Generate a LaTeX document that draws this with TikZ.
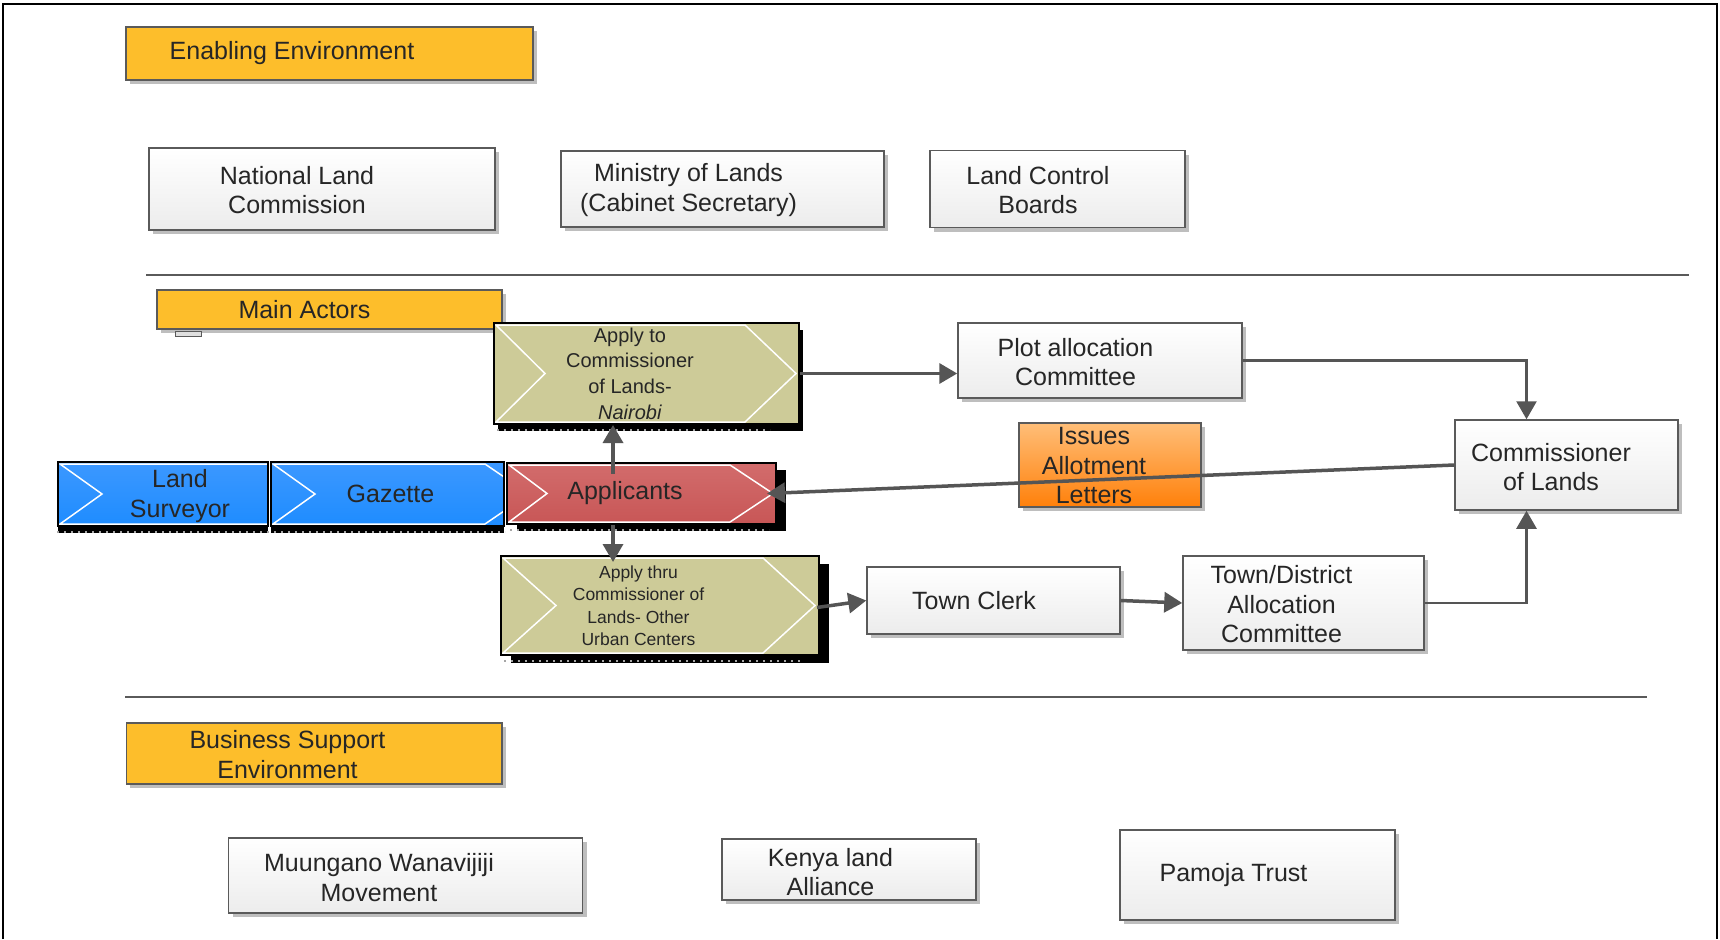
\documentclass[tikz,border=0pt]{standalone}
\usepackage{fontspec}
\setmainfont{Liberation Sans}
\usetikzlibrary{arrows.meta, shadows, positioning}

\definecolor{hdrorange}{RGB}{253,190,43}
\definecolor{boxgray}{RGB}{90,90,90}
\definecolor{boxfill}{RGB}{236,236,236}
\definecolor{shadowgray}{RGB}{190,190,190}
\definecolor{arrowgray}{RGB}{85,85,85}
\definecolor{khaki}{RGB}{205,203,152}
\definecolor{bluetop}{RGB}{60,152,255}
\definecolor{bluemid}{RGB}{92,172,255}
\definecolor{bluebot}{RGB}{30,140,255}
\definecolor{redtop}{RGB}{210,108,108}
\definecolor{redmid}{RGB}{222,138,138}
\definecolor{redbot}{RGB}{200,86,86}
\definecolor{issuetop}{RGB}{255,190,120}
\definecolor{issuebot}{RGB}{255,128,10}

\tikzstyle{box} = [rectangle, draw=boxgray, line width=1.5pt, top color=white, bottom color=boxfill, inner sep=0pt,
  drop shadow={shadow xshift=4pt, shadow yshift=-4pt, fill=shadowgray, opacity=1}]
\tikzstyle{header} = [rectangle, draw=boxgray, line width=1.5pt, fill=hdrorange, inner sep=0pt,
  drop shadow={shadow xshift=4pt, shadow yshift=-4pt, fill=shadowgray, opacity=1}]
\tikzstyle{issue} = [box, top color=issuetop, bottom color=issuebot]
\tikzstyle{txt} = [font=\fontsize{25}{29.5}\selectfont, align=center, text=black!85]
\tikzstyle{arrow} = [draw, arrowgray, line width=3.5pt, -{Triangle[length=18pt, width=20pt]}]
\tikzstyle{line} = [draw, boxgray, line width=1.5pt]
\tikzstyle{dotrow} = [draw, gray!70, line width=2pt, dash pattern=on 2pt off 5pt]
\tikzstyle{blueband} = [rectangle, draw=black, line width=2pt, inner sep=0pt,
  top color=bluetop, middle color=bluemid, bottom color=bluebot]
\tikzstyle{redband} = [blueband, top color=redtop, middle color=redmid, bottom color=redbot]
\tikzstyle{khakiband} = [rectangle, draw=black, line width=2pt, inner sep=0pt, fill=khaki]

% white arrow outline inside the coloured bands: notch, end of top edge, tip
\tikzset{chevron/.style n args={3}{path picture={
  \draw[white, line width=1.5pt]
    ([shift={(2,2)}]path picture bounding box.north west)
    -- ([shift={(-#2,2)}]path picture bounding box.north east)
    -- ([shift={(-#3,0)}]path picture bounding box.east)
    -- ([shift={(-#2,-2)}]path picture bounding box.south east)
    -- ([shift={(2,-2)}]path picture bounding box.south west)
    -- ([shift={(#1,0)}]path picture bounding box.west) -- cycle;}}}

\begin{document}
\begin{tikzpicture}[x=1pt, y=-1pt, node distance=100pt]
    \fill[white] (0,0) rectangle (1720,939);
    \useasboundingbox (0,0) rectangle (1720,939);
    \draw[line width=2pt] (3,939) -- (3,4) -- (1716.5,4) -- (1716.5,939);

    % enabling environment
    \node[header, minimum width=407pt, minimum height=53pt,
      label={[txt, xshift=-37.5pt]center:Enabling Environment}] (enabling) at (329.5,53.5) {};
    \node[box, below of=enabling, node distance=135.5pt, xshift=-7.5pt, minimum width=346pt, minimum height=82pt,
      label={[txt, xshift=-25pt, yshift=-1pt]center:{National Land\\Commission}}] (nlc) {};
    \node[box, right of=nlc, node distance=400.5pt, minimum width=323pt, minimum height=76pt,
      label={[txt, xshift=-34pt, yshift=-1pt]center:{Ministry of Lands\\(Cabinet Secretary)}}] (ministry) {};
    \node[box, right of=ministry, node distance=335pt, minimum width=255pt, minimum height=77pt,
      label={[txt, xshift=-19.5pt, yshift=-1pt]center:{Land Control\\Boards}}] (boards) {};

    \path[line] (146,275) -- (1689,275);

    % main actors
    \node[header, below of=enabling, node distance=256pt, minimum width=345pt, minimum height=39pt,
      label={[txt, xshift=-25pt]center:Main Actors}] (actors) {};
    \draw[boxgray, fill=gray!25, line width=1pt] (175,331) rectangle (201,336);

    \node[blueband, chevron={44}{-6}{-50}, general shadow={fill=black, shadow yshift=-7pt},
      minimum width=210pt, minimum height=64pt,
      label={[txt, xshift=17pt, yshift=-2pt]center:{Land\\Surveyor}}] (surveyor) at (163,494) {};
    \node[blueband, chevron={44}{19}{-25}, general shadow={fill=black, shadow yshift=-7pt},
      right of=surveyor, node distance=224.5pt, minimum width=233pt, minimum height=64pt,
      label={[txt, xshift=3pt]center:Gazette}] (gazette) {};
    \draw[dotrow] ([yshift=-4.5pt]surveyor.south west) -- ([yshift=-4.5pt]gazette.south east);
    \node[redband, chevron={40}{46}{3}, general shadow={fill=black, shadow xshift=10pt, shadow yshift=-7pt},
      right of=gazette, node distance=254pt, yshift=0.5pt, minimum width=269pt, minimum height=61pt,
      label={[txt, xshift=-16.5pt]center:Applicants}] (appl) {};
    \draw[dotrow] ([xshift=4pt, yshift=-4.5pt]appl.south west) -- ([xshift=-8pt, yshift=-4.5pt]appl.south east);

    \node[khakiband, chevron={51}{54}{3}, general shadow={fill=black, shadow xshift=4pt, shadow yshift=-7pt},
      minimum width=305pt, minimum height=101pt,
      label={[txt, font=\fontsize{20}{25.7}\selectfont, xshift=-16.5pt]center:{Apply to\\Commissioner\\of Lands-\\\textit{Nairobi}}}] (applyto) at (646.5,373.5) {};
    \draw[dotrow] ([xshift=4pt, yshift=-4.5pt]applyto.south west) -- ([xshift=-30pt, yshift=-4.5pt]applyto.south east);
    \node[khakiband, chevron={55}{56}{4}, general shadow={fill=black, shadow xshift=10pt, shadow yshift=-8pt},
      minimum width=318pt, minimum height=99pt,
      label={[txt, font=\fontsize{17.5}{22.5}\selectfont, xshift=-21.5pt]center:{Apply thru\\Commissioner of\\Lands- Other\\Urban Centers}}] (thru) at (660,605.5) {};
    \draw[dotrow] ([xshift=4pt, yshift=-5pt]thru.south west) -- ([xshift=-20pt, yshift=-5pt]thru.south east);

    \node[box, minimum width=284pt, minimum height=75pt,
      label={[txt, xshift=-24.5pt, yshift=-1.5pt]center:{Plot allocation\\Committee}}] (plot) at (1100,360.5) {};
    \node[box, minimum width=223pt, minimum height=90pt,
      label={[txt, xshift=-15.5pt, yshift=-2pt]center:{Commissioner\\of Lands}}] (comm) at (1566.5,465) {};
    \node[issue, minimum width=182pt, minimum height=84pt,
      label={[txt, xshift=-16pt, yshift=-1pt]center:{Issues\\Allotment\\Letters}}] (issues) at (1110,465) {};
    \node[box, minimum width=253pt, minimum height=67pt,
      label={[txt, xshift=-19.5pt]center:Town Clerk}] (clerk) at (993.5,600.5) {};
    \node[box, minimum width=241pt, minimum height=94pt,
      label={[txt, xshift=-22pt, yshift=-1.5pt]center:{Town/District\\Allocation\\Committee}}] (tdist) at (1303.5,603) {};

    % lines
    \draw[arrow] (applyto.east) -- (applyto.east -| plot.west);
    \draw[arrow, line width=2.5pt] (plot.east) -| ([xshift=-40pt]comm.north);
    \draw[arrow] (comm.west) -- ([xshift=-10pt]appl.east);
    \draw[arrow] ([xshift=-28.5pt, yshift=-12pt]appl.north) -- ([xshift=-28.5pt]appl.north |- applyto.south);
    \draw[arrow] ([xshift=-28.5pt]appl.south) -- ([xshift=-28.5pt, yshift=-7pt]appl.south |- thru.north);
    \draw[arrow] ([xshift=-3pt, yshift=-2pt]thru.east) -- (clerk.west);
    \draw[arrow] (clerk.east) -- (tdist.west);
    \draw[arrow, line width=2.5pt] (tdist.east) -| ([xshift=-40pt]comm.south);

    \path[line] (125,697) -- (1647,697);

    % business support environment
    \node[header, minimum width=375.5pt, minimum height=61pt,
      label={[txt, xshift=-26.5pt, yshift=-1pt]center:{Business Support\\Environment}}] (support) at (314,753.5) {};
    \node[box, minimum width=354pt, minimum height=75pt,
      label={[txt, xshift=-26.5pt, yshift=-2pt]center:{Muungano Wanavijiji\\Movement}}] (muungano) at (405.5,875.5) {};
    \node[box, right of=muungano, node distance=443.5pt, yshift=6pt, minimum width=254pt, minimum height=61pt,
      label={[txt, xshift=-18.5pt, yshift=-2.5pt]center:{Kenya land\\Alliance}}] (kla) {};
    \node[box, right of=kla, node distance=408.5pt, yshift=-5.5pt, minimum width=275pt, minimum height=90pt,
      label={[txt, xshift=-24pt]center:Pamoja Trust}] (pamoja) {};
\end{tikzpicture}
\end{document}
